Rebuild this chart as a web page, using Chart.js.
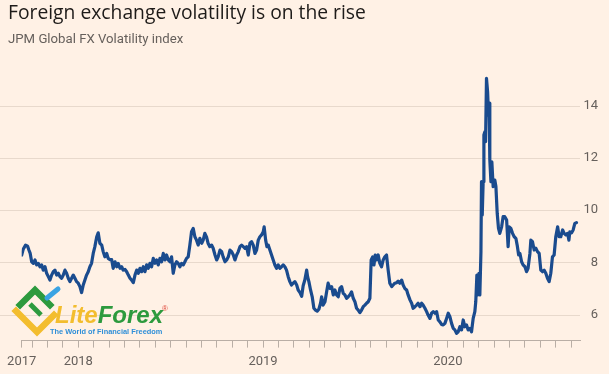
<!DOCTYPE html>
<html>
<head>
<meta charset="utf-8">
<script src="https://cdn.jsdelivr.net/npm/chart.js@4.4.1/dist/chart.umd.min.js"></script>
<style>
  html, body { margin: 0; padding: 0; background: #fff1e5; }
  #wrap { position: relative; width: 609px; height: 374px; overflow: hidden; background: #fff1e5; }
  #title { position: absolute; left: 8px; top: 0px; font-family: "Open Sans", sans-serif; font-size: 19.3px; line-height: 24px; color: #1e1b19; white-space: nowrap; }
  #subtitle { position: absolute; left: 8px; top: 30px; font-family: Roboto, sans-serif; font-size: 13.2px; line-height: 18px; color: #66605c; white-space: nowrap; }
  canvas { position: absolute; left: 0; top: 0; }
  #logo { position: absolute; left: 0; top: 0; width: 609px; height: 374px; pointer-events: none; }
  #brand { position: absolute; left: 55px; top: 301px; font-family: "Liberation Sans", Arial, sans-serif; font-weight: bold; font-style: italic; font-size: 24px; line-height: 28px; white-space: nowrap; }
  #brand .lite { color: #f3bd2e; }
  #brand .forex { color: #2d9a3e; }
  #reg { position: absolute; left: 162px; top: 304px; font-family: "Liberation Sans", Arial, sans-serif; font-size: 8px; color: #e0493b; }
  #tag { position: absolute; left: 50px; top: 327px; font-family: "Liberation Sans", Arial, sans-serif; font-weight: bold; font-size: 7.4px; line-height: 9px; color: #2f8fd8; white-space: nowrap; }
</style>
</head>
<body>
<div id="wrap">
  <canvas id="c" width="609" height="374"></canvas>
  <div id="title">Foreign exchange volatility is on the rise</div>
  <div id="subtitle">JPM Global FX Volatility index</div>
  <svg id="logo" width="609" height="374" viewBox="0 0 609 374">
    <polyline points="16,311 37,332 54,315" fill="none" stroke="#f3bd2e" stroke-width="6.5" stroke-linejoin="miter" stroke-linecap="square"/>
    <polyline points="20,305 35,290 50,305" fill="none" stroke="#2d9a3e" stroke-width="6.5" stroke-linejoin="miter" stroke-linecap="square"/>
    <line x1="30" y1="304" x2="41" y2="315" stroke="#2d9a3e" stroke-width="5"/>
    <line x1="47" y1="298" x2="58" y2="289" stroke="#3aa3e3" stroke-width="5" stroke-linecap="round"/>
  </svg>
  <div id="brand"><span class="lite">Lite</span><span class="forex">Forex</span></div>
  <div id="reg">®</div>
  <div id="tag">The World of Financial Freedom</div>
</div>
<script>
// ---- data (decimal year, index level) ----
const dates = [
2017.694,2017.702,2017.715,2017.726,2017.733,2017.740,2017.748,2017.757,2017.766,2017.775,
2017.784,2017.793,2017.802,2017.811,2017.820,2017.829,2017.838,2017.847,2017.856,2017.865,
2017.874,2017.883,2017.892,2017.901,2017.910,2017.919,2017.928,2017.937,2017.946,2017.955,
2017.964,2017.973,2017.982,2017.991,2018.000,2018.009,2018.018,2018.027,2018.036,2018.045,
2018.054,2018.063,2018.072,2018.081,2018.090,2018.100,2018.108,2018.117,2018.127,2018.135,
2018.144,2018.154,2018.162,2018.172,2018.181,2018.189,2018.199,2018.208,2018.216,2018.226,
2018.235,2018.243,2018.253,2018.262,2018.271,2018.280,2018.289,2018.298,2018.307,2018.316,
2018.325,2018.334,2018.343,2018.352,2018.361,2018.370,2018.379,2018.388,2018.397,2018.406,
2018.415,2018.424,2018.433,2018.442,2018.451,2018.460,2018.469,2018.478,2018.487,2018.496,
2018.505,2018.514,2018.523,2018.532,2018.541,2018.550,2018.559,2018.568,2018.577,2018.586,
2018.595,2018.604,2018.613,2018.622,2018.631,2018.640,2018.649,2018.658,2018.668,2018.676,
2018.685,2018.695,2018.703,2018.712,2018.722,2018.730,2018.740,2018.749,2018.757,2018.767,
2018.776,2018.784,2018.794,2018.803,2018.812,2018.821,2018.830,2018.839,2018.848,2018.857,
2018.866,2018.875,2018.884,2018.893,2018.902,2018.911,2018.920,2018.929,2018.938,2018.947,
2018.956,2018.965,2018.974,2018.983,2018.992,2019.001,2019.006,2019.014,2019.021,2019.028,
2019.037,2019.046,2019.055,2019.064,2019.073,2019.082,2019.091,2019.100,2019.109,2019.118,
2019.127,2019.136,2019.145,2019.154,2019.163,2019.172,2019.182,2019.190,2019.199,2019.209,
2019.217,2019.226,2019.236,2019.241,2019.248,2019.257,2019.266,2019.275,2019.284,2019.293,
2019.302,2019.311,2019.317,2019.325,2019.335,2019.344,2019.352,2019.362,2019.371,2019.380,
2019.389,2019.398,2019.407,2019.416,2019.425,2019.434,2019.443,2019.452,2019.461,2019.470,
2019.479,2019.488,2019.497,2019.506,2019.515,2019.524,2019.533,2019.542,2019.551,2019.560,
2019.569,2019.578,2019.585,2019.593,2019.600,2019.607,2019.614,2019.623,2019.632,2019.641,
2019.650,2019.659,2019.668,2019.677,2019.686,2019.696,2019.704,2019.713,2019.723,2019.731,
2019.740,2019.750,2019.758,2019.767,2019.777,2019.785,2019.795,2019.804,2019.812,2019.822,
2019.831,2019.839,2019.849,2019.858,2019.866,2019.876,2019.885,2019.893,2019.903,2019.912,
2019.921,2019.930,2019.939,2019.948,2019.957,2019.966,2019.975,2019.984,2019.993,2020.002,
2020.011,2020.020,2020.029,2020.038,2020.047,2020.056,2020.065,2020.074,2020.083,2020.092,
2020.101,2020.110,2020.119,2020.128,2020.137,2020.146,2020.151,2020.157,2020.162,2020.168,
2020.173,2020.179,2020.182,2020.186,2020.191,2020.195,2020.200,2020.204,2020.209,2020.215,
2020.220,2020.223,2020.227,2020.233,2020.238,2020.245,2020.254,2020.260,2020.267,2020.274,
2020.281,2020.291,2020.299,2020.308,2020.318,2020.326,2020.332,2020.341,2020.350,2020.359,
2020.368,2020.375,2020.383,2020.390,2020.399,2020.407,2020.417,2020.426,2020.434,2020.444,
2020.449,2020.458,2020.467,2020.476,2020.485,2020.494,2020.503,2020.512,2020.521,2020.530,
2020.539,2020.548,2020.557,2020.566,2020.575,2020.584,2020.594,2020.602,2020.611,2020.621,
2020.629,2020.638,2020.648,2020.655,2020.660,2020.669,2020.678,2020.687,2020.696
];
const values = [
8.28,8.50,8.66,8.62,8.47,8.34,8.02,7.96,8.09,7.90,
7.96,7.83,7.90,7.70,7.83,7.58,7.45,7.32,7.51,7.64,
7.70,7.51,7.58,7.45,7.39,7.51,7.70,7.58,7.39,7.26,
7.39,7.51,7.39,7.26,7.20,7.07,6.84,7.13,7.32,7.51,
7.64,7.83,7.96,8.34,8.60,8.98,9.13,8.73,8.66,8.41,
8.21,8.34,8.15,8.10,8.10,7.77,8.02,7.83,7.96,7.77,
7.83,7.70,7.73,7.64,7.51,7.39,7.32,7.22,7.51,7.70,
7.58,7.77,7.64,7.83,7.64,7.90,7.77,7.96,7.83,8.15,
7.96,8.09,7.90,8.15,8.02,8.34,8.09,8.28,8.09,8.02,
8.21,7.58,7.90,8.02,7.96,7.83,7.96,7.90,8.02,8.15,
8.21,8.66,9.17,9.30,8.98,8.85,8.66,8.92,8.73,8.85,
9.11,8.95,8.72,8.60,8.66,8.54,8.28,8.09,8.21,8.47,
8.41,8.21,8.02,8.09,8.21,8.47,8.41,8.28,8.09,8.28,
8.41,8.60,8.66,8.60,8.54,8.60,8.28,8.73,8.79,8.66,
8.34,8.47,8.85,8.98,9.05,9.17,9.36,8.85,8.60,8.66,
8.47,8.28,8.09,7.90,7.77,7.90,7.77,7.83,7.90,7.83,
7.70,7.45,7.26,7.13,7.20,7.26,7.13,6.94,6.85,6.70,
7.10,7.32,7.70,7.45,7.26,6.94,6.68,6.24,6.17,6.13,
6.20,6.43,6.68,6.36,6.49,6.87,7.20,7.00,7.07,6.75,
6.94,6.75,6.68,7.00,7.07,6.81,6.75,6.62,6.68,6.75,
6.87,6.62,6.49,6.24,6.17,6.07,6.17,6.30,6.36,6.43,
6.49,6.62,8.09,8.21,7.90,8.28,8.09,8.28,7.96,7.83,
8.09,8.21,8.28,7.70,7.20,7.07,7.13,7.20,7.22,7.28,
7.20,7.32,7.13,7.00,6.94,6.75,6.56,6.43,6.24,6.30,
6.36,6.43,6.30,6.43,6.36,6.24,6.11,5.98,5.85,6.05,
6.11,6.05,6.11,5.79,5.72,5.62,5.60,5.66,5.85,6.05,
5.92,5.66,5.47,5.41,5.28,5.34,5.53,5.41,5.79,5.53,
5.60,5.41,5.47,5.34,5.85,6.11,6.49,7.51,6.75,7.58,
6.75,8.41,11.09,9.81,11.09,12.88,13.00,12.62,15.05,14.54,
13.64,14.10,11.92,11.09,11.85,10.90,11.15,10.90,9.88,9.30,
9.11,9.36,9.75,9.75,9.62,8.60,9.36,9.30,9.11,8.98,
8.92,8.66,8.28,8.34,8.02,7.90,7.83,7.64,7.77,8.34,
8.85,8.79,8.47,8.54,8.41,8.34,7.70,7.64,7.70,7.58,
7.39,7.26,7.58,8.21,8.28,8.98,9.36,8.98,8.98,9.24,
9.11,9.05,9.11,8.85,9.17,9.13,9.24,9.49,9.52
];
// ---- axis ticks ----
const yTicks = [6, 8, 10, 12, 14];
const yearTicks = [2017.694, 2018, 2019, 2020];
const yearLabels = ['2017', '2018', '2019', '2020'];
const xMin = 2017.694, xMax = 2020.715;
const yMin = 5, yMax = 15.4;

const monthTicks = [xMin];
for (let yr = 2017; yr <= 2020; yr++) {
  for (let m = 0; m < 12; m++) {
    const v = yr + m / 12;
    if (v > xMin + 0.01 && v <= xMax) monthTicks.push(v);
  }
}

const FONT = 'Roboto, sans-serif';
const GRID = '#e8d9cc';
const AXIS = '#b9aea5';
const TEXT = '#66605c';

const gridPlugin = {
  id: 'fullGrid',
  beforeDatasetsDraw(chart) {
    const { ctx, chartArea, scales } = chart;
    ctx.save();
    ctx.strokeStyle = GRID;
    ctx.lineWidth = 1;
    yTicks.forEach(t => {
      const y = Math.round(scales.y.getPixelForValue(t)) + 0.5;
      ctx.beginPath();
      ctx.moveTo(0, y);
      ctx.lineTo(chartArea.right, y);
      ctx.stroke();
    });
    ctx.restore();
  }
};

new Chart(document.getElementById('c'), {
  type: 'line',
  data: {
    datasets: [{
      data: dates.map((d, i) => ({ x: d, y: values[i] })),
      borderColor: '#1a4b8e',
      borderWidth: 3.2,
      pointRadius: 0,
      tension: 0,
      borderJoinStyle: 'round',
      borderCapStyle: 'round',
      fill: false
    }]
  },
  options: {
    responsive: false,
    animation: false,
    events: [],
    layout: { padding: { left: 21.7, right: 11, top: 69.2, bottom: 0 } },
    plugins: { legend: { display: false }, tooltip: { enabled: false }, title: { display: false } },
    scales: {
      x: {
        type: 'linear',
        min: xMin,
        max: xMax,
        afterBuildTicks: s => { s.ticks = monthTicks.map(v => ({ value: v })); },
        afterFit: s => { s.height = 33.4; },
        grid: { drawOnChartArea: false, drawTicks: true, tickLength: 7, color: AXIS, lineWidth: 1 },
        border: { display: true, color: AXIS, width: 1 },
        ticks: {
          autoSkip: false, maxRotation: 0, minRotation: 0, padding: 6,
          color: TEXT, font: { family: FONT, size: 13 },
          callback: (v) => {
            const i = yearTicks.findIndex(t => Math.abs(t - v) < 1e-6);
            return i >= 0 ? yearLabels[i] : '';
          }
        }
      },
      y: {
        position: 'right',
        min: yMin,
        max: yMax,
        afterBuildTicks: s => { s.ticks = yTicks.map(v => ({ value: v })); },
        afterFit: s => { s.width = 18; },
        grid: { display: false, drawTicks: false },
        border: { display: false },
        ticks: { crossAlign: 'far', padding: 0, color: TEXT, font: { family: FONT, size: 13 } }
      }
    }
  },
  plugins: [gridPlugin]
});
</script>
</body>
</html>
